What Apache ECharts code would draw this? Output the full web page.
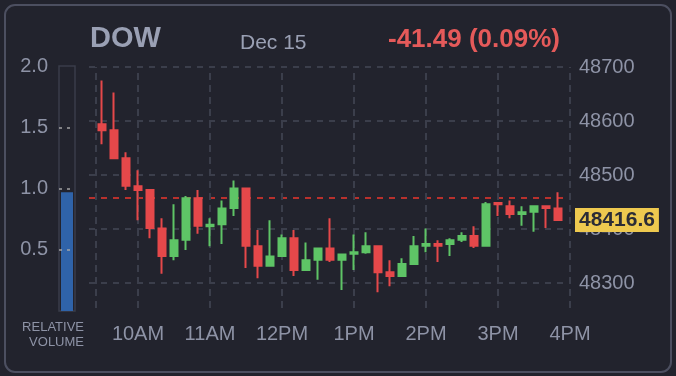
<!DOCTYPE html>
<html>
<head>
<meta charset="utf-8">
<script src="https://cdn.jsdelivr.net/npm/echarts@6/dist/echarts.min.js"></script>
<style>
  html, body { margin: 0; padding: 0; background: #22232d; }
  #main { width: 676px; height: 376px; }
</style>
</head>
<body>
<div id="main"></div>
<script>
// 10 minute candles, Dec 15
const times = ['09:30','09:40','09:50','10:00','10:10','10:20','10:30','10:40','10:50','11:00',
  '11:10','11:20','11:30','11:40','11:50','12:00','12:10','12:20','12:30','12:40',
  '12:50','13:00','13:10','13:20','13:30','13:40','13:50','14:00','14:10','14:20',
  '14:30','14:40','14:50','15:00','15:10','15:20','15:30','15:40','15:50'];
const opens  = [48594,48583,48531,48479,48472,48401,48350,48380,48457,48405,
  48409,48439,48475,48368,48332,48350,48383,48324,48343,48364,
  48343,48354,48357,48368,48320,48313,48335,48369,48372,48372,
  48380,48387,48369,48448,48442,48428,48432,48442,48438];
const closes = [48583,48531,48480,48472,48402,48350,48379,48457,48406,48408,
  48438,48475,48369,48332,48349,48383,48324,48342,48364,48343,
  48353,48357,48368,48320,48313,48335,48368,48372,48369,48379,
  48387,48369,48446,48446,48428,48431,48442,48439,48416.6];
const lows   = [48557,48531,48472,48416,48383,48317,48342,48361,48391,48368,
  48372,48424,48328,48309,48332,48350,48313,48324,48306,48339,
  48287,48324,48354,48283,48294,48313,48335,48357,48339,48350,
  48376,48365,48369,48424,48420,48406,48395,48402,48416.6];
const highs  = [48675,48653,48542,48509,48472,48420,48446,48461,48472,48420,
  48453,48490,48475,48398,48416,48390,48398,48375,48364,48420,
  48353,48390,48394,48368,48342,48346,48387,48401,48379,48383,
  48394,48405,48450,48450,48453,48442,48442,48442,48468];

const lastPrice = 48416.6;
const prevClose = 48458.09;
const change = '-41.49 (0.09%)';
const priceTicks = [48300, 48400, 48500, 48600, 48700];
const hourTicks = ['10:00','11:00','12:00','13:00','14:00','15:00','16:00'];
const hourLabels = ['10AM','11AM','12PM','1PM','2PM','3PM','4PM'];
const relVolume = [0.97];

function toMin(t) { const p = t.split(':'); return (+p[0]) * 60 + (+p[1]); }
const hourMins = hourTicks.map(toMin);
const candles = times.map((t, i) => [toMin(t), opens[i], closes[i], lows[i], highs[i]]);

const FONT = '"Liberation Sans", Arial, sans-serif';
const TXT = '#8e93a6';
const GRID = '#3b3e4b';
const UP = '#5ec466';
const DOWN = '#e5484a';

const chart = echarts.init(document.getElementById('main'));
chart.setOption({
  backgroundColor: '#22232d',
  animation: false,
  graphic: [
    { type: 'rect', shape: { x: 5, y: 5, width: 666, height: 367, r: 10 },
      style: { fill: 'none', stroke: '#4c4f60', lineWidth: 2 } },
    { type: 'text', style: { text: 'DOW', x: 90, y: 39, textVerticalAlign: 'middle',
      fontFamily: FONT, fontSize: 29, fontWeight: 'bold', fill: '#9aa0b4' } },
    { type: 'text', style: { text: 'Dec 15', x: 240, y: 43, textVerticalAlign: 'middle',
      fontFamily: FONT, fontSize: 21, fill: '#9aa0b4' } },
    { type: 'text', style: { text: change, x: 388, y: 40, textVerticalAlign: 'middle',
      fontFamily: FONT, fontSize: 26, fontWeight: 'bold', fill: '#e55a5a' } },
    { type: 'text', style: { text: 'RELATIVE\nVOLUME', x: 84, y: 320, textAlign: 'right',
      textVerticalAlign: 'top', fontFamily: FONT, fontSize: 13, lineHeight: 15, fill: TXT } }
  ],
  grid: [
    { left: 96, width: 474, top: 67, height: 241 },
    { left: 89, width: 476, top: 67, height: 216 },
    { left: 59, width: 16, top: 66, height: 245, show: true, borderColor: '#3a3d4a', borderWidth: 1.5 }
  ],
  xAxis: [
    { gridIndex: 0, type: 'value', min: 565, max: 960,
      axisLine: { show: false }, axisTick: { show: false }, splitLine: { show: false },
      axisLabel: { customValues: hourMins, margin: 16, color: TXT, fontSize: 20, fontFamily: FONT,
        formatter: v => hourLabels[hourMins.indexOf(v)] } },
    { gridIndex: 1, type: 'value', min: 0, max: 1, show: false },
    { gridIndex: 2, type: 'category', data: ['vol'], show: false }
  ],
  yAxis: [
    { gridIndex: 0, type: 'value', min: 48700 - 241 / 0.54, max: 48700, show: false },
    { gridIndex: 1, type: 'value', position: 'right', min: 48300, max: 48700, interval: 100,
      axisLine: { show: false }, axisTick: { show: false },
      axisLabel: { margin: 14, color: TXT, fontSize: 20, fontFamily: FONT, formatter: v => String(v) },
      splitLine: { lineStyle: { color: GRID, width: 2, type: [6, 6] } } },
    { gridIndex: 2, type: 'value', min: 0, max: 2, interval: 0.5,
      axisLine: { show: false }, axisTick: { show: false }, splitLine: { show: false },
      axisLabel: { margin: 11, color: TXT, fontSize: 20, fontFamily: FONT, showMinLabel: false,
        formatter: v => v.toFixed(1) } }
  ],
  series: [
    {
      type: 'line', xAxisIndex: 1, yAxisIndex: 1, data: [], silent: true,
      markLine: {
        z: 1, silent: true, symbol: 'none', animation: false,
        data: [
          { yAxis: prevClose, lineStyle: { color: '#b8312d', width: 2, type: [6, 6] }, label: { show: false } },
          { yAxis: lastPrice, lineStyle: { color: 'rgba(0,0,0,0)', width: 0 },
            label: { show: true, position: 'end', distance: 10, formatter: String(lastPrice),
              backgroundColor: '#eec94f', color: '#2b2c36', fontSize: 21, fontWeight: 'bold',
              fontFamily: FONT, padding: [2, 4, 1, 4] } }
        ]
      }
    },
    {
      type: 'candlestick', xAxisIndex: 0, yAxisIndex: 0, z: 3,
      data: candles, encode: { x: 0, y: [1, 2, 3, 4] },
      barWidth: 8,
      itemStyle: { color: UP, color0: DOWN, borderColor: UP, borderColor0: DOWN, borderWidth: 2 },
      markLine: {
        z: 1, silent: true, symbol: 'none', animation: false,
        label: { show: false },
        lineStyle: { color: GRID, width: 2, type: [7, 5] },
        data: [{ xAxis: 565 }].concat(hourMins.map(m => ({ xAxis: m })))
      }
    },
    {
      type: 'bar', xAxisIndex: 2, yAxisIndex: 2, data: relVolume, barWidth: 12,
      itemStyle: { color: '#2f63a9' },
      markLine: {
        silent: true, symbol: 'none', animation: false, label: { show: false },
        lineStyle: { color: 'rgba(170,170,170,0.7)', width: 2, type: [3, 5] },
        data: [{ yAxis: 0.5 }, { yAxis: 1 }, { yAxis: 1.5 }]
      }
    }
  ]
});
</script>
</body>
</html>
